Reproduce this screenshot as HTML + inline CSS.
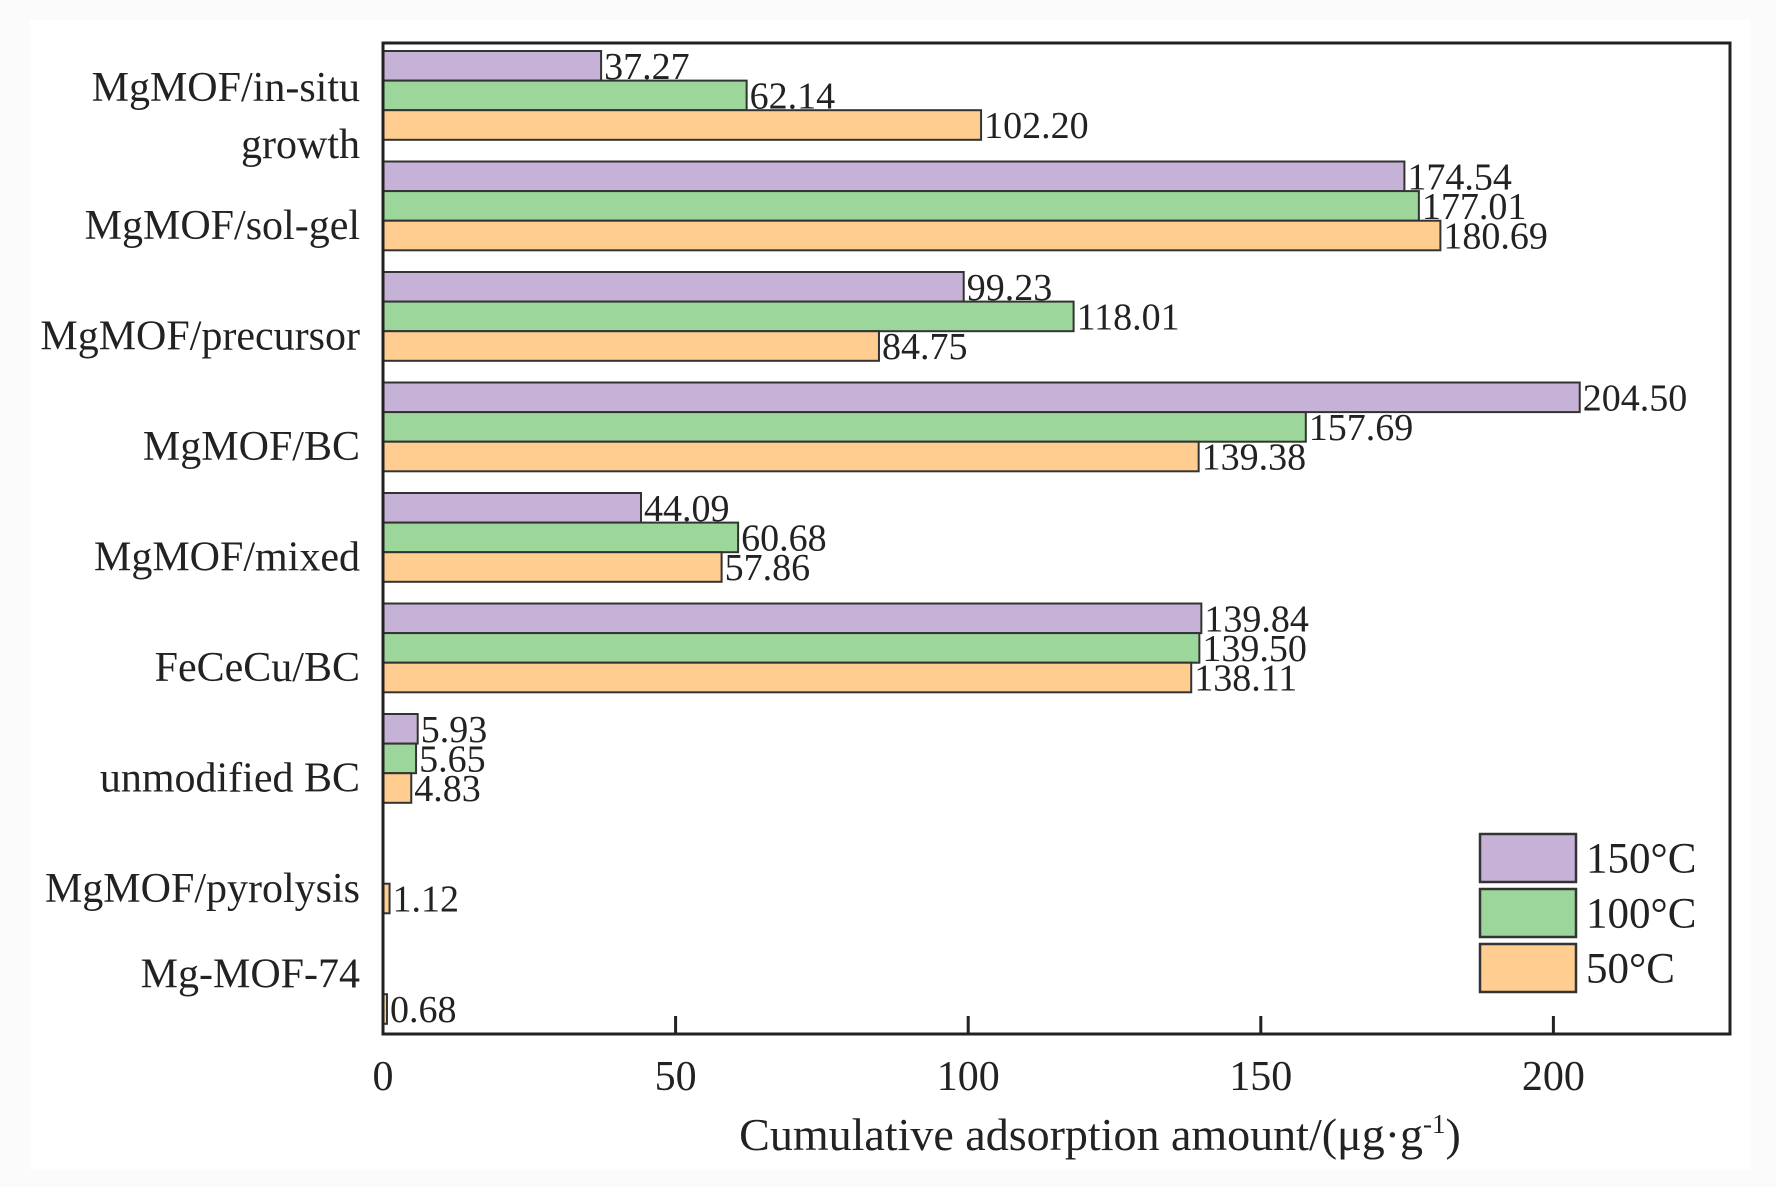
<!DOCTYPE html>
<html><head><meta charset="utf-8"><style>
html,body{margin:0;padding:0;background:#fff;}
svg{display:block;font-family:"Liberation Serif",serif;}
</style></head><body>
<svg id="chart" width="1776" height="1187" viewBox="0 0 1776 1187">
<rect x="0" y="0" width="1776" height="1187" fill="#fbfbfb"/>
<rect x="30" y="20" width="1720" height="1150" fill="#fff"/>
<g id="bars"></g>
<g id="labels"></g>
<rect x="383" y="43" width="1347" height="991" fill="none" stroke="#222" stroke-width="3"/>
<g id="ticks"></g>
<text x="1100" y="1150" font-size="46" text-anchor="middle" fill="#222">Cumulative adsorption amount/(μg·g<tspan font-size="27" dy="-17">-1</tspan><tspan dy="17">)</tspan></text>
<g id="legend"></g>
</svg>
<script>
const categories = ["MgMOF/in-situ growth","MgMOF/sol-gel","MgMOF/precursor","MgMOF/BC","MgMOF/mixed","FeCeCu/BC","unmodified BC","MgMOF/pyrolysis","Mg-MOF-74"];
const series150 = [37.27,174.54,99.23,204.50,44.09,139.84,5.93,null,null];
const series100 = [62.14,177.01,118.01,157.69,60.68,139.50,5.65,null,null];
const series50 = [102.20,180.69,84.75,139.38,57.86,138.11,4.83,1.12,0.68];
const xTicks = [0,50,100,150,200];
const seriesNames = ["150°C","100°C","50°C"];

const NS="http://www.w3.org/2000/svg";
const colors=["#c6b2d6","#9cd69a","#fecd8f"];
const allSeries=[series150,series100,series50];
const X0=383, PX=292.6/50, AXY=1034;
const xs=v=>X0+v*PX;
const GTOP=51, PITCH=110.5, BH=29.6;
const groupTop=i=>GTOP+i*PITCH;
function mk(tag,attrs,parent){const e=document.createElementNS(NS,tag);for(const k in attrs)e.setAttribute(k,attrs[k]);parent.appendChild(e);return e;}
const gb=document.getElementById('bars'), gl=document.getElementById('labels'), gt=document.getElementById('ticks'), gleg=document.getElementById('legend');
categories.forEach((c,i)=>{
  allSeries.forEach((s,j)=>{
    const v=s[i]; if(v===null) return;
    const y=groupTop(i)+j*BH;
    const r=mk('rect',{x:X0,y:y,width:Math.max(xs(v)-X0,1.5),height:BH,fill:colors[j],stroke:"#333","stroke-width":2},gb);
    
    
    const t=mk('text',{x:xs(v)+3,y:y+BH/2+1,"font-size":38,"dominant-baseline":"central",fill:"#222"},gb);
    t.textContent=v.toFixed(2);
    
    
  });
  const cy=groupTop(i)+1.5*BH;
  if(i===0){
    const t=mk('text',{x:360,y:88,"font-size":42,"text-anchor":"end","dominant-baseline":"central",fill:"#222"},gl);
    t.textContent="MgMOF/in-situ";
    
    
    const t2=mk('text',{x:360,y:145,"font-size":42,"text-anchor":"end","dominant-baseline":"central",fill:"#222"},gl);
    t2.textContent="growth";
    
    
  } else {
    const off = i===8 ? -5 : 20;
    const t=mk('text',{x:360,y:cy+off,"font-size":42,"text-anchor":"end","dominant-baseline":"central",fill:"#222"},gl);
    t.textContent=c;
    
    
  }
});
xTicks.forEach(v=>{
  const l=mk('line',{x1:xs(v),x2:xs(v),y1:AXY,y2:AXY-18,stroke:"#222","stroke-width":3},gt);
  
  
  const t=mk('text',{x:xs(v),y:1077,"font-size":42,"text-anchor":"middle","dominant-baseline":"central",fill:"#222"},gt);
  t.textContent=v;
  
  
});
seriesNames.forEach((n,j)=>{
  const y=834+j*55;
  const r=mk('rect',{x:1480,y:y,width:96,height:48,fill:colors[j],stroke:"#333","stroke-width":2.5},gleg);
  
  
  const t=mk('text',{x:1586,y:y+25,"font-size":43,"dominant-baseline":"central",fill:"#222"},gleg);
  t.textContent=n;
  
  
});
</script>
</body></html>
